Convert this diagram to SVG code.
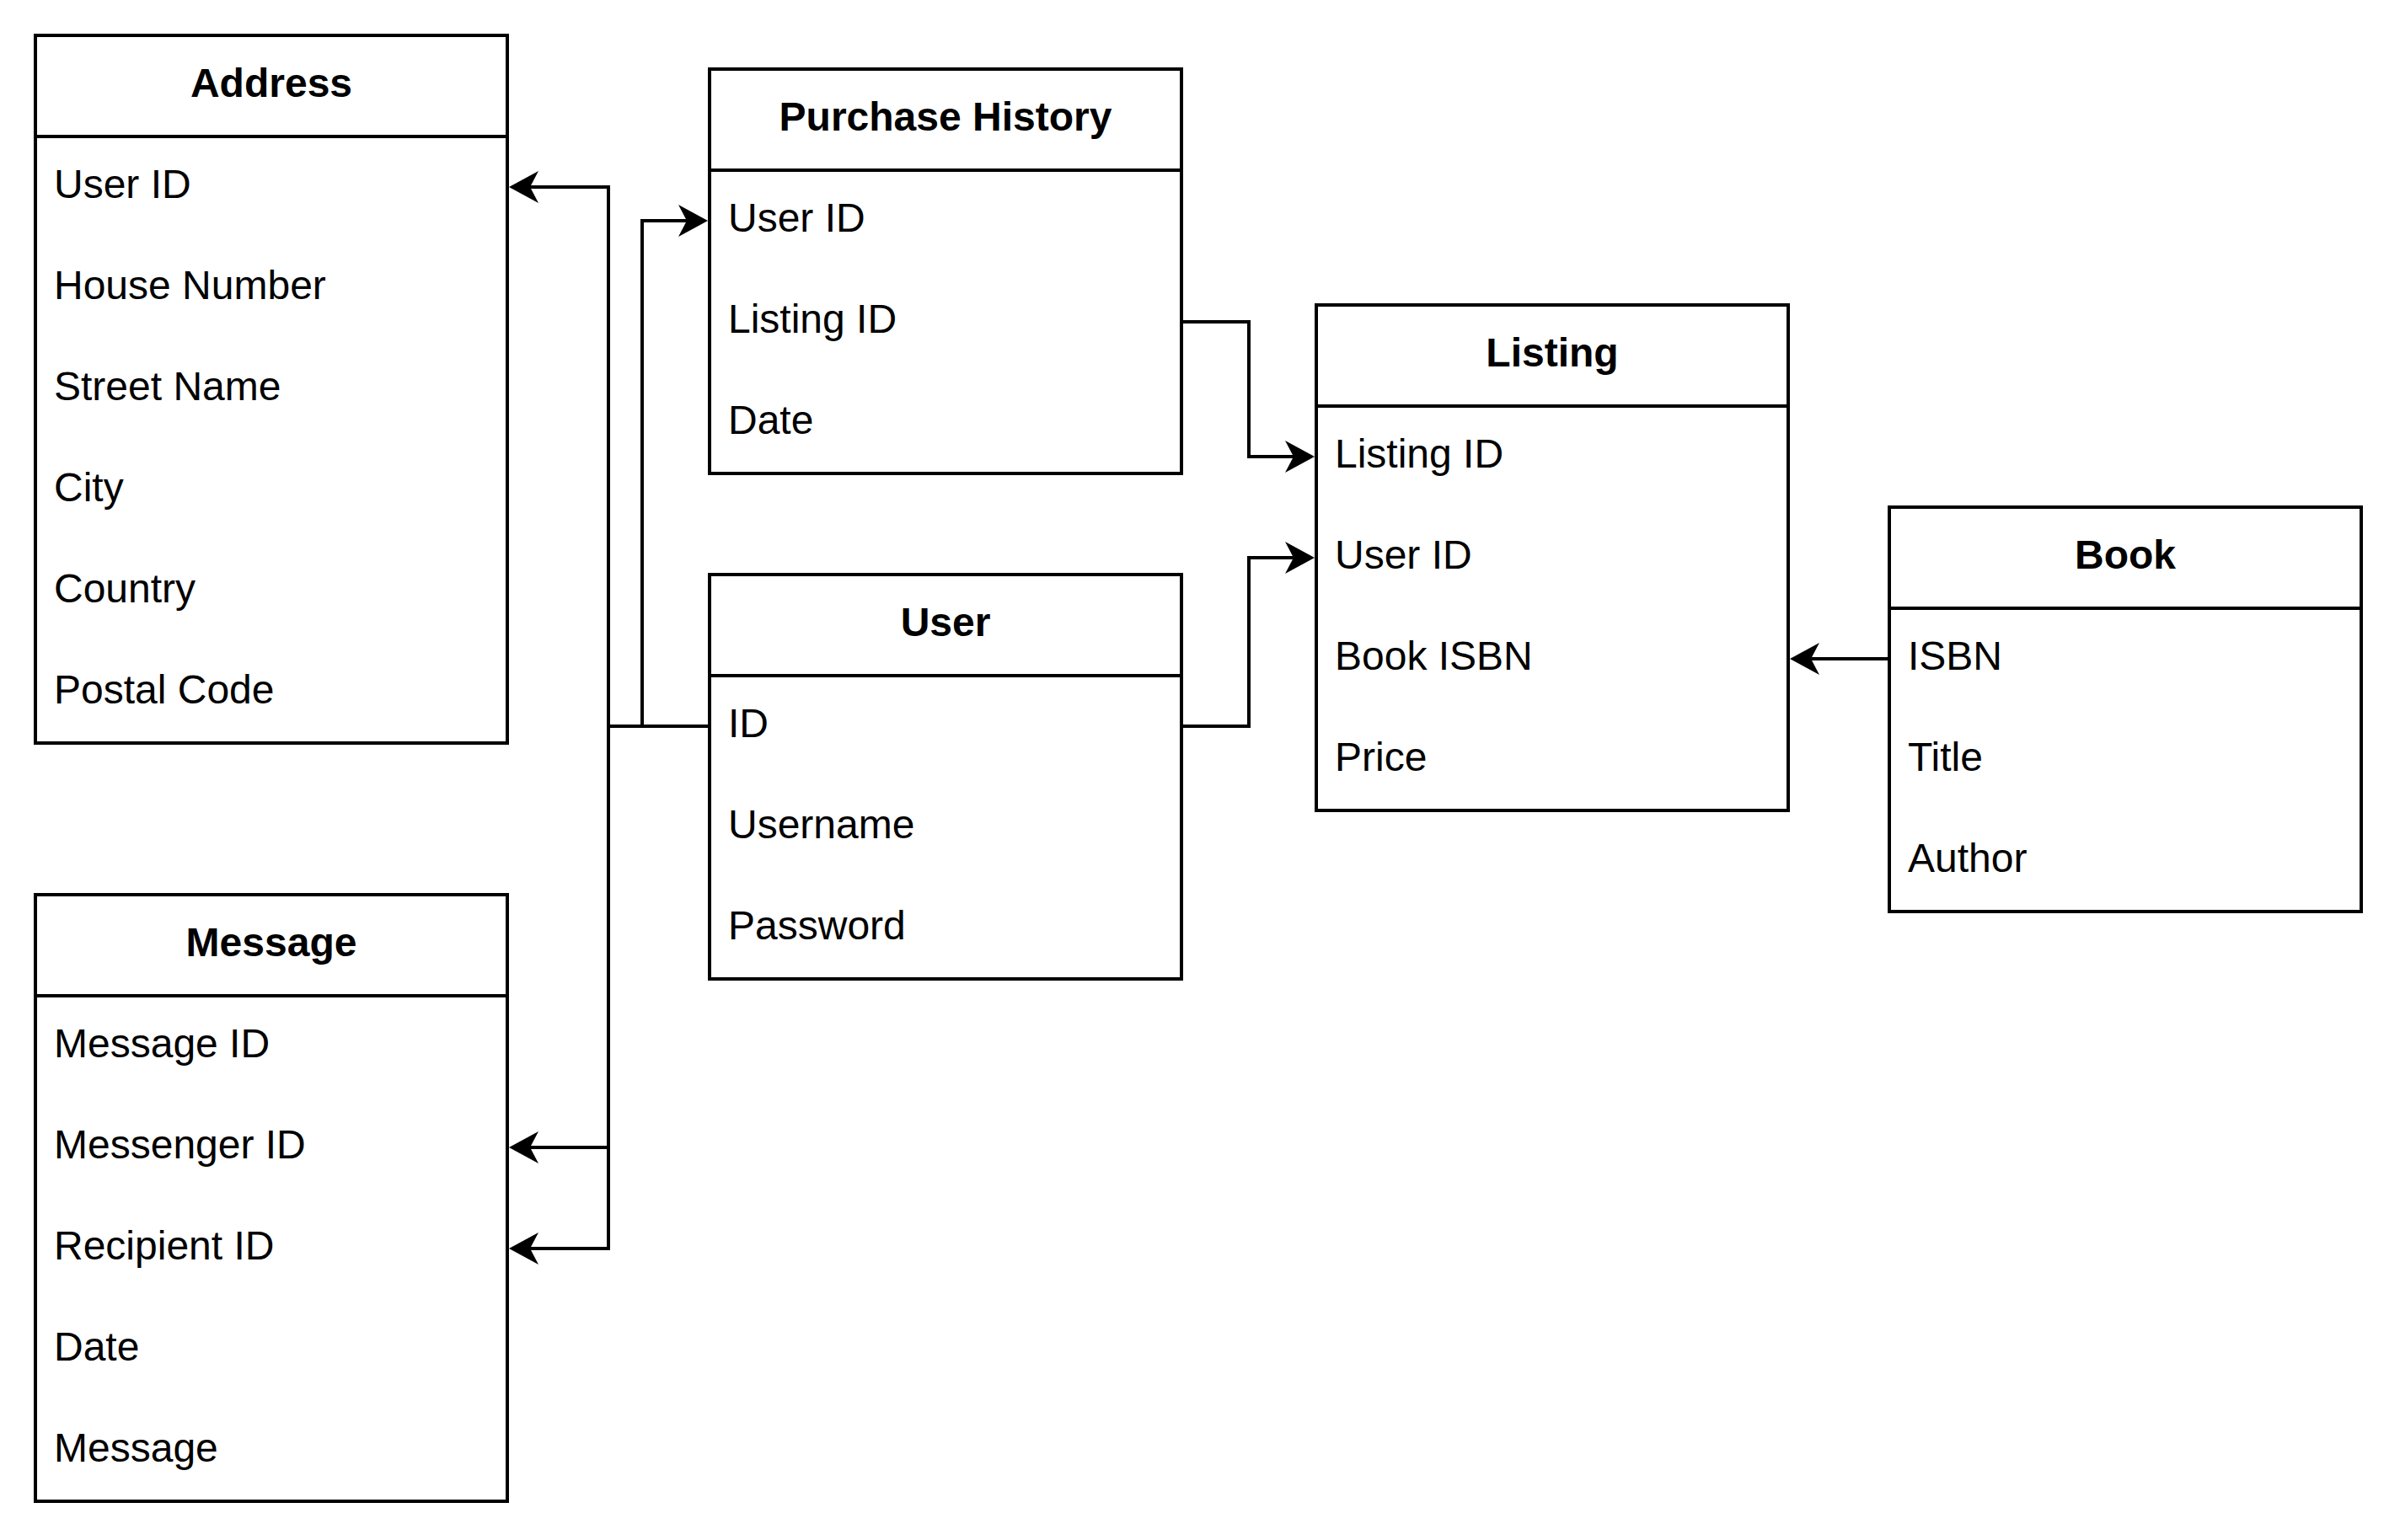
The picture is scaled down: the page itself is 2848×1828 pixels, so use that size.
<svg xmlns="http://www.w3.org/2000/svg" width="2848" height="1828" viewBox="0 0 2848 1828">
<style>
.box{fill:#ffffff;stroke:#000000;stroke-width:4}
.sep{stroke:#000000;stroke-width:4}
.title{font-family:"Liberation Sans",Arial,Helvetica,sans-serif;font-size:48px;font-weight:bold;text-anchor:middle;fill:#000000}
.row{font-family:"Liberation Sans",Arial,Helvetica,sans-serif;font-size:48px;fill:#000000}
.conn{fill:none;stroke:#000000;stroke-width:4;marker-end:url(#arrow)}
</style>
<defs>
<marker id="arrow" markerUnits="userSpaceOnUse" viewBox="-12 -21 40 42" markerWidth="40" markerHeight="42" refX="0" refY="0" orient="auto">
<path d="M25,0 L-10,-19 L0,0 L-10,19 Z" fill="#000000" stroke="none"/>
</marker>
</defs>
<rect width="2848" height="1828" fill="#ffffff"/>
<g id="connectors">
<path class="conn" d="M842,862 H722 V222 H629"/>
<path class="conn" d="M842,862 H762 V262 H815"/>
<path class="conn" d="M842,862 H722 V1362 H629"/>
<path class="conn" d="M842,862 H722 V1482 H629"/>
<path class="conn" d="M1402,382 H1482 V542 H1535"/>
<path class="conn" d="M1402,862 H1482 V662 H1535"/>
<path class="conn" d="M2242,782 H2149"/>
</g>
<g id="address">
<rect class="box" x="42" y="42" width="560" height="840"/>
<line class="sep" x1="42" y1="162" x2="602" y2="162"/>
<text class="title" x="322" y="115">Address</text>
<text class="row" x="64" y="235">User ID</text>
<text class="row" x="64" y="355">House Number</text>
<text class="row" x="64" y="475">Street Name</text>
<text class="row" x="64" y="595">City</text>
<text class="row" x="64" y="715">Country</text>
<text class="row" x="64" y="835">Postal Code</text>
</g>
<g id="purchase-history">
<rect class="box" x="842" y="82" width="560" height="480"/>
<line class="sep" x1="842" y1="202" x2="1402" y2="202"/>
<text class="title" x="1122" y="155">Purchase History</text>
<text class="row" x="864" y="275">User ID</text>
<text class="row" x="864" y="395">Listing ID</text>
<text class="row" x="864" y="515">Date</text>
</g>
<g id="user">
<rect class="box" x="842" y="682" width="560" height="480"/>
<line class="sep" x1="842" y1="802" x2="1402" y2="802"/>
<text class="title" x="1122" y="755">User</text>
<text class="row" x="864" y="875">ID</text>
<text class="row" x="864" y="995">Username</text>
<text class="row" x="864" y="1115">Password</text>
</g>
<g id="listing">
<rect class="box" x="1562" y="362" width="560" height="600"/>
<line class="sep" x1="1562" y1="482" x2="2122" y2="482"/>
<text class="title" x="1842" y="435">Listing</text>
<text class="row" x="1584" y="555">Listing ID</text>
<text class="row" x="1584" y="675">User ID</text>
<text class="row" x="1584" y="795">Book ISBN</text>
<text class="row" x="1584" y="915">Price</text>
</g>
<g id="book">
<rect class="box" x="2242" y="602" width="560" height="480"/>
<line class="sep" x1="2242" y1="722" x2="2802" y2="722"/>
<text class="title" x="2522" y="675">Book</text>
<text class="row" x="2264" y="795">ISBN</text>
<text class="row" x="2264" y="915">Title</text>
<text class="row" x="2264" y="1035">Author</text>
</g>
<g id="message">
<rect class="box" x="42" y="1062" width="560" height="720"/>
<line class="sep" x1="42" y1="1182" x2="602" y2="1182"/>
<text class="title" x="322" y="1135">Message</text>
<text class="row" x="64" y="1255">Message ID</text>
<text class="row" x="64" y="1375">Messenger ID</text>
<text class="row" x="64" y="1495">Recipient ID</text>
<text class="row" x="64" y="1615">Date</text>
<text class="row" x="64" y="1735">Message</text>
</g>
</svg>
